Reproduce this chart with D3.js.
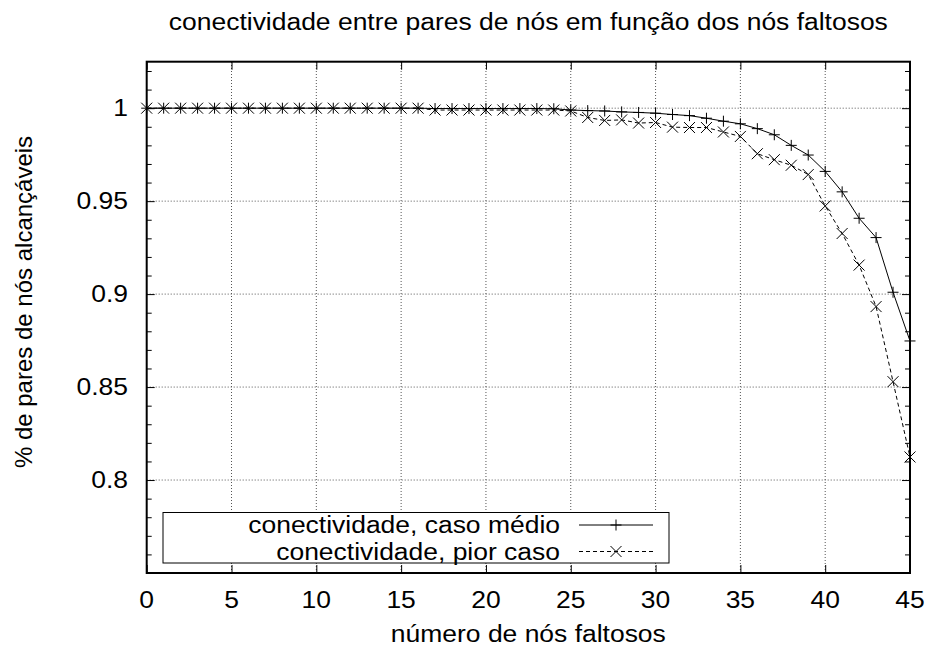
<!DOCTYPE html>
<html>
<head>
<meta charset="utf-8">
<script src="https://cdn.jsdelivr.net/npm/d3@7"></script>
<style>
    body { margin: 0; background: #fff; }
    text { font-family: "Liberation Sans", Arial, sans-serif; fill: #000; }
</style>
</head>
<body>
<div id="chart"></div>
<script>

// numero de nos faltosos (eixo x)
let nodes = [0,1,2,3,4,5,6,7,8,9,10,11,12,13,14,15,16,17,18,19,20,21,22,23,24,25,26,27,28,29,30,31,32,33,34,35,36,37,38,39,40,41,42,43,44,45];

// conectividade, caso medio
let avgCase = [1,1,1,1,1,1,1,1,1,1,1,1,1,1,1,1,1,0.9998,0.9998,0.9998,0.9998,0.9998,0.9998,0.9998,0.9997,
    0.999,0.9987,0.9985,0.998,0.9977,0.9973,0.9966,0.996,0.9946,0.993,0.9916,0.989,0.9857,0.98,0.9748,
    0.966,0.955,0.9408,0.9304,0.901,0.8748];

// conectividade, pior caso
let worstCase = [1,1,1,1,1,1,1,1,1,1,1,1,1,1,1,1,1,0.999,0.999,0.999,0.999,0.999,0.999,0.999,0.999,
    0.9985,0.995,0.9934,0.9937,0.992,0.9923,0.9898,0.9896,0.9896,0.9872,0.9848,0.9755,0.9723,0.9693,0.9643,
    0.9474,0.9326,0.9156,0.8933,0.8529,0.8124];

let xTicks = [0,5,10,15,20,25,30,35,40,45];
let yTicks = [0.8,0.85,0.9,0.95,1];
let yMinorTicks = [0.76,0.77,0.78,0.79,0.81,0.82,0.83,0.84,0.86,0.87,0.88,0.89,0.91,0.92,0.93,0.94,0.96,0.97,0.98,0.99,1.01,1.02];

let seriesNames = ["conectividade, caso médio", "conectividade, pior caso"];

let width = 932, height = 656;
let margin = { top: 61.7, right: 22, bottom: 83, left: 146.7 };
let fontSize = 23;
let widen = 1.15;   // the original text is a bit wider than Liberation Sans

let svg = d3.select("#chart").append("svg")
    .attr("width", width)
    .attr("height", height);

let x = d3.scaleLinear().domain([0, 45]).range([margin.left, width - margin.right]);
let y = d3.scaleLinear().domain([0.75, 1.025]).range([height - margin.bottom, margin.top]);

function stretch(sel) {
    sel.each(function () {
        let len = this.getComputedTextLength();
        d3.select(this).attr("textLength", len * widen).attr("lengthAdjust", "spacingAndGlyphs");
    });
}

// grid (dotted)
let grid = svg.append("g").attr("class", "grid")
    .attr("stroke", "#555").attr("stroke-width", 1).attr("stroke-dasharray", "1,2");
grid.selectAll(".gx").data(xTicks.slice(1, -1)).join("line")
    .attr("x1", d => x(d)).attr("x2", d => x(d))
    .attr("y1", y.range()[0]).attr("y2", y.range()[1]);
grid.selectAll(".gy").data(yTicks).join("line")
    .attr("x1", x.range()[0]).attr("x2", x.range()[1])
    .attr("y1", d => y(d)).attr("y2", d => y(d));

// axes, ticks pointing inward on all sides
svg.append("g")
    .attr("transform", "translate(0," + y.range()[0] + ")")
    .call(d3.axisTop(x).tickValues(xTicks).tickSize(8).tickFormat(""))
    .call(g => g.select(".domain").remove());
svg.append("g")
    .attr("transform", "translate(0," + y.range()[1] + ")")
    .call(d3.axisBottom(x).tickValues(xTicks).tickSize(8).tickFormat(""))
    .call(g => g.select(".domain").remove());
svg.append("g")
    .attr("transform", "translate(" + x.range()[0] + ",0)")
    .call(d3.axisRight(y).tickValues(yTicks).tickSize(8).tickFormat(""))
    .call(g => g.select(".domain").remove());
svg.append("g")
    .attr("transform", "translate(" + x.range()[0] + ",0)")
    .call(d3.axisRight(y).tickValues(yMinorTicks).tickSize(5).tickFormat(""))
    .call(g => g.select(".domain").remove());
svg.append("g")
    .attr("transform", "translate(" + x.range()[1] + ",0)")
    .call(d3.axisLeft(y).tickValues(yTicks).tickSize(8).tickFormat(""))
    .call(g => g.select(".domain").remove());
svg.append("g")
    .attr("transform", "translate(" + x.range()[1] + ",0)")
    .call(d3.axisLeft(y).tickValues(yMinorTicks).tickSize(5).tickFormat(""))
    .call(g => g.select(".domain").remove());
svg.selectAll(".tick line").attr("stroke", "#000").attr("stroke-width", 1);

// tick labels
svg.append("g").selectAll("text").data(xTicks).join("text")
    .attr("x", d => x(d)).attr("y", 608)
    .attr("text-anchor", "middle")
    .style("font-size", fontSize + "px")
    .text(d => d)
    .call(stretch);
svg.append("g").selectAll("text").data(yTicks).join("text")
    .attr("x", 128).attr("y", d => y(d))
    .attr("dy", "0.36em")
    .attr("text-anchor", "end")
    .style("font-size", fontSize + "px")
    .text(d => d)
    .call(stretch);

// titles
svg.append("text")
    .attr("x", (x.range()[0] + x.range()[1]) / 2).attr("y", 30)
    .attr("text-anchor", "middle")
    .style("font-size", fontSize + "px")
    .text("conectividade entre pares de nós em função dos nós faltosos")
    .call(stretch);
svg.append("text")
    .attr("x", (x.range()[0] + x.range()[1]) / 2).attr("y", 642)
    .attr("text-anchor", "middle")
    .style("font-size", fontSize + "px")
    .text("número de nós faltosos")
    .call(stretch);
svg.append("text")
    .attr("transform", "translate(32,302) rotate(-90)")
    .attr("text-anchor", "middle")
    .style("font-size", "24px")
    .text("% de pares de nós alcançáveis");

// legend box (opaque, hides the grid)
let legend = svg.append("g");
legend.append("rect")
    .attr("x", 163).attr("y", 512.5)
    .attr("width", 506).attr("height", 50.5)
    .attr("fill", "#fff").attr("stroke", "#000").attr("stroke-width", 1);

// plot border
svg.append("rect")
    .attr("x", x.range()[0]).attr("y", y.range()[1])
    .attr("width", x.range()[1] - x.range()[0])
    .attr("height", y.range()[0] - y.range()[1])
    .attr("fill", "none").attr("stroke", "#000").attr("stroke-width", 2);

let line = d3.line()
    .x((d, i) => x(nodes[i]))
    .y(d => y(d));

function plusPath(cx, cy, r) {
    return "M" + (cx - r) + "," + cy + "H" + (cx + r) + "M" + cx + "," + (cy - r) + "V" + (cy + r);
}
function crossPath(cx, cy, r) {
    return "M" + (cx - r) + "," + (cy - r) + "L" + (cx + r) + "," + (cy + r) +
        "M" + (cx - r) + "," + (cy + r) + "L" + (cx + r) + "," + (cy - r);
}

let series = [
    { name: seriesNames[0], values: avgCase, dash: null, marker: plusPath },
    { name: seriesNames[1], values: worstCase, dash: "4,3", marker: crossPath }
];

series.forEach(function (s, k) {
    svg.append("path")
        .datum(s.values)
        .attr("d", line)
        .attr("fill", "none")
        .attr("stroke", "#000")
        .attr("stroke-width", 1)
        .attr("stroke-dasharray", s.dash);
    svg.append("path")
        .attr("d", s.values.map((v, i) => s.marker(x(nodes[i]), y(v), 5.5)).join(""))
        .attr("fill", "none")
        .attr("stroke", "#000")
        .attr("stroke-width", 1);

    // legend entry
    let ly = 525 + k * 26.5;
    legend.append("text")
        .attr("x", 560).attr("y", ly)
        .attr("dy", "0.36em")
        .attr("text-anchor", "end")
        .style("font-size", fontSize + "px")
        .text(s.name)
        .call(stretch);
    legend.append("line")
        .attr("x1", 579).attr("x2", 653)
        .attr("y1", ly).attr("y2", ly)
        .attr("stroke", "#000").attr("stroke-width", 1)
        .attr("stroke-dasharray", s.dash);
    legend.append("path")
        .attr("d", s.marker(616, ly, 5.5))
        .attr("fill", "none").attr("stroke", "#000").attr("stroke-width", 1);
});

</script>
</body>
</html>
